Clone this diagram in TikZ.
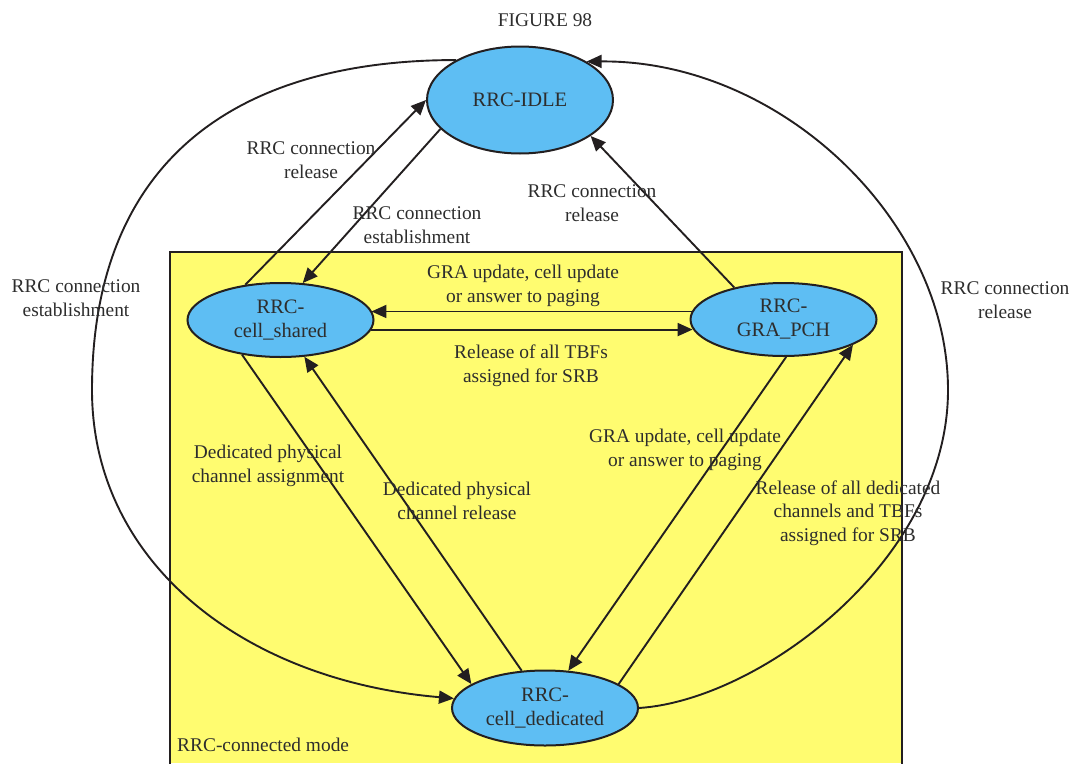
\documentclass[tikz,border=0pt]{standalone}
\usepackage{fontspec}
\setmainfont{Liberation Serif}
\usepackage{xcolor}
\usepackage{tikz}
\usetikzlibrary{arrows.meta, shapes.geometric}
\definecolor{StateBlue}{RGB}{94, 190, 243}
\definecolor{ModeYellow}{RGB}{255, 252, 112}
\definecolor{LineDark}{RGB}{35, 31, 32}
\definecolor{TextGray}{RGB}{45, 45, 45}

\tikzset{
  rrcstate/.style={
    ellipse,
    draw=LineDark,
    line width=2pt,
    fill=StateBlue,
    minimum width=186pt,
    minimum height=74pt,
    inner sep=0pt,
    align=center,
    text=TextGray,
    font=\fontsize{20.5}{24}\selectfont
  },
  trans/.style={draw=LineDark, line width=1.9pt, -{Triangle[length=15pt, width=13pt]}},
  translabel/.style={align=center, text=TextGray, inner sep=0pt}
}

\begin{document}
\begin{tikzpicture}[x=1pt, y=-1pt, font=\fontsize{19.4}{23.5}\selectfont]
        \useasboundingbox (0,0) rectangle (1073,763);

        % RRC-connected mode area
        \fill[ModeYellow] (170,252) rectangle (902,763);
        \draw[LineDark, line width=2.2pt] (170,764) -- (170,252) -- (902,252) -- (902,764);

        % states
        \node[rrcstate, minimum height=107pt] (idle) at (520,100) {RRC-IDLE};
        \node[rrcstate] (shared) at (280.5,320) {RRC-\\cell\_shared};
        \node[rrcstate, minimum height=73pt] (grapch) at (783.5,319.5) {RRC-\\GRA\_PCH};
        \node[rrcstate, minimum height=75pt] (dedicated) at (545,708) {RRC-\\cell\_dedicated};

        % transitions
        \draw[trans] (shared.135) -- (idle.180);
        \draw[trans] (idle.200) -- (shared.59);
        \draw[trans] (grapch.147) -- (idle.333);
        \draw[trans] (grapch.175) -- (shared.6 |- grapch.175);
        \draw[trans] (shared.354) -- (grapch.186 |- shared.354);
        \draw[trans] (shared.222) -- (dedicated.162);
        \draw[trans] (dedicated.122) -- (shared.303);
        \draw[trans] (grapch.274) -- (dedicated.58);
        \draw[trans] (dedicated.18) -- (grapch.340);
        \draw[trans] (idle.148) .. controls (225,60) and (92,170) .. (92,390)
          .. controls (92,560) and (240,680) .. (dedicated.174);
        \draw[trans] (dedicated.east) .. controls (760,700) and (948,560) .. (948,390)
          .. controls (948,220) and (780,60) .. (idle.30);

        % labels
        \node[translabel] (relLeft) at (311,160) {RRC connection\\release};
        \node[translabel] (estMid) at (417,225) {RRC connection\\establishment};
        \node[translabel] (relMid) at (592,203) {RRC connection\\release};
        \node[translabel] (graTop) at (523,286) {GRA update, cell update\\or answer to paging};
        \node[translabel] (tbfRel) at (531,366) {Release of all TBFs\\assigned for SRB};
        \node[translabel] (estOuter) at (76,298) {RRC connection\\establishment};
        \node[translabel] (relOuter) at (1005,300) {RRC connection\\release};
        \node[translabel] (dedAssign) at (268,466) {Dedicated physical\\channel assignment};
        \node[translabel] (dedRelease) at (457,501) {Dedicated physical\\channel release};
        \node[translabel] (graLow) at (685,450) {GRA update, cell update\\or answer to paging};
        \node[translabel] (dedChRel) at (848,513) {Release of all dedicated\\channels and TBFs\\assigned for SRB};
        \node[translabel, anchor=west] (modeName) at (177,745) {RRC-connected mode};
        \node[translabel] (figTitle) at (545,20) {FIGURE 98};
      \end{tikzpicture}
\end{document}
